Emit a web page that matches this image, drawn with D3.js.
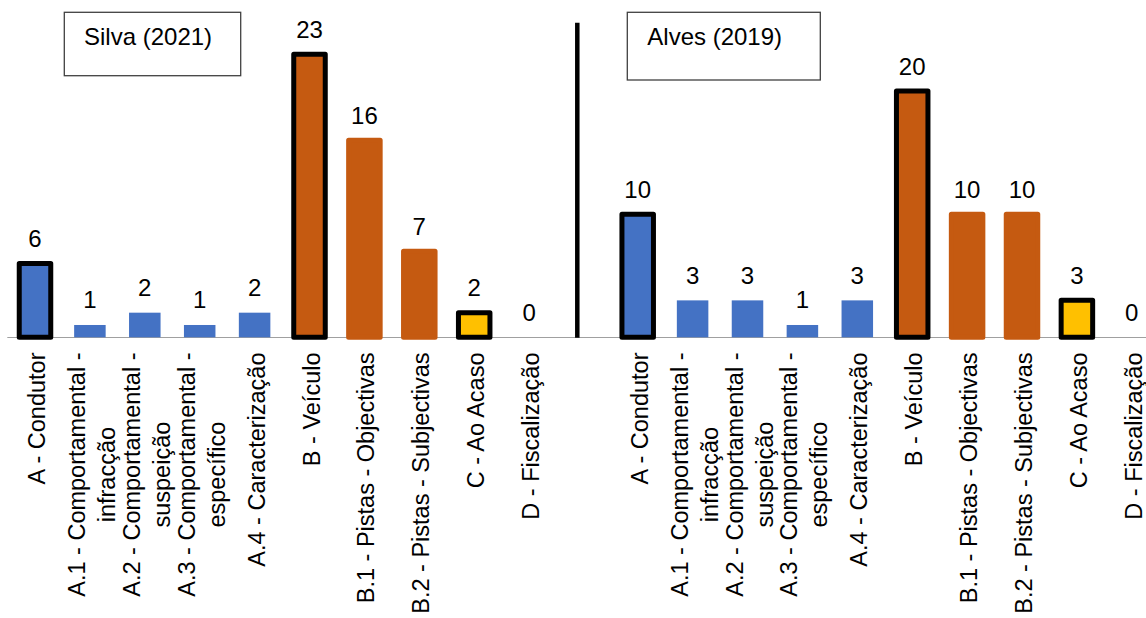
<!DOCTYPE html>
<html>
<head>
<meta charset="utf-8">
<script src="https://cdn.jsdelivr.net/npm/d3@7"></script>
<style>
  html, body { margin: 0; padding: 0; background: #fff; }
  svg { display: block; font-family: "Liberation Sans", Arial, sans-serif; }
</style>
</head>
<body>
<svg id="chart" width="1146" height="618"></svg>
<script>
// categories (line breaks as in the original wrapped labels)
const categories = [
  "A - Condutor",
  "A.1 - Comportamental -\ninfracção",
  "A.2 - Comportamental -\nsuspeição",
  "A.3 - Comportamental -\nespecífico",
  "A.4 - Caracterização",
  "B - Veículo",
  "B.1 - Pistas - Objectivas",
  "B.2 - Pistas - Subjectivas",
  "C - Ao Acaso",
  "D - Fiscalização",
];
const groups = ["A", "A", "A", "A", "A", "B", "B", "B", "C", "D"];
const isMain = [true, false, false, false, false, true, false, false, true, true];

const silvaValues = [6, 1, 2, 1, 2, 23, 16, 7, 2, 0];
const alvesValues = [10, 3, 3, 1, 3, 20, 10, 10, 3, 0];

const panels = [
  { title: "Silva (2021)", values: silvaValues },
  { title: "Alves (2019)", values: alvesValues },
];

const groupColor = { A: "#4472C4", B: "#C55A11", C: "#FFC000", D: "#7F7F7F" };

const W = 1146, H = 618;
const baseY = 337.3;
const svg = d3.select("#chart");
svg.append("rect").attr("width", W).attr("height", H).attr("fill", "#fff");

const y = d3.scaleLinear().domain([0, 23]).range([baseY, baseY - 12.31 * 23]);

// layout of the two panels
const panelX = [7.55, 610.25];
const panelBox = [
  { x: 64.3, y: 12.3, w: 176.4, h: 63.4, tx: 84 },
  { x: 627.3, y: 12.3, w: 193, h: 67.7, tx: 647.3 },
];

// axis baseline running under both panels
svg.append("line")
  .attr("x1", 7.3).attr("x2", W)
  .attr("y1", baseY + 0.2).attr("y2", baseY + 0.2)
  .attr("stroke", "#a0a0a0").attr("stroke-width", 1.2);

panels.forEach((p, pi) => {
  const x = d3.scaleBand()
    .domain(categories)
    .range([panelX[pi], panelX[pi] + 549])
    .paddingInner(0.426)
    .paddingOuter(0.213);

  const rows = categories.map((c, i) => ({
    cat: c, value: p.values[i], group: groups[i], main: isMain[i],
  }));

  const g = svg.append("g");

  // bars
  g.selectAll("rect.bar")
    .data(rows.filter((d) => d.value > 0))
    .join("rect")
    .attr("class", "bar")
    .attr("x", (d) => x(d.cat))
    .attr("y", (d) => y(d.value))
    .attr("width", x.bandwidth())
    .attr("height", (d) => y(0) - y(d.value))
    .attr("fill", (d) => groupColor[d.group])
    .attr("stroke", (d) => (d.main ? "#000" : d.group === "B" ? groupColor.B : "none"))
    .attr("stroke-width", (d) => (d.main || d.group === "B" ? 5 : 0))
    .attr("stroke-linejoin", "round");

  // value labels
  g.selectAll("text.val")
    .data(rows)
    .join("text")
    .attr("class", "val")
    .attr("x", (d) => x(d.cat) + x.bandwidth() / 2)
    .attr("y", (d) => y(d.value) - 16.5)
    .attr("text-anchor", "middle")
    .attr("font-size", 24)
    .attr("fill", "#000")
    .text((d) => d.value);

  // category labels, rotated, top-aligned under the axis
  const lineH = 30;
  const labels = g.selectAll("g.lab")
    .data(rows)
    .join("g")
    .attr("class", "lab");

  labels.each(function (d) {
    const lines = d.cat.split("\n");
    const sel = d3.select(this);
    const ts = lines.map((l, li) =>
      sel.append("text")
        .attr("font-size", 23.5)
        .attr("fill", "#000")
        .attr("text-anchor", "middle")
        .attr("y", 10 - ((lines.length - 1) * lineH) / 2 + li * lineH)
        .text(l)
    );
    const maxW = d3.max(ts, (t) => t.node().getComputedTextLength());
    const cx = x(d.cat) + x.bandwidth() / 2;
    sel.attr("transform", `translate(${cx},${baseY + 15.2 + maxW / 2}) rotate(-90)`);
  });

  // title box
  const b = panelBox[pi];
  svg.append("rect")
    .attr("x", b.x).attr("y", b.y)
    .attr("width", b.w).attr("height", b.h)
    .attr("fill", "#fff")
    .attr("stroke", "#404040")
    .attr("stroke-width", 1.3);
  svg.append("text")
    .attr("x", b.tx).attr("y", 45)
    .attr("font-size", 24)
    .attr("fill", "#000")
    .text(p.title);
});

// divider between the two studies
svg.append("line")
  .attr("x1", 577.3).attr("x2", 577.3)
  .attr("y1", 22.7).attr("y2", baseY + 0.5)
  .attr("stroke", "#000").attr("stroke-width", 4.5);
</script>
</body>
</html>
